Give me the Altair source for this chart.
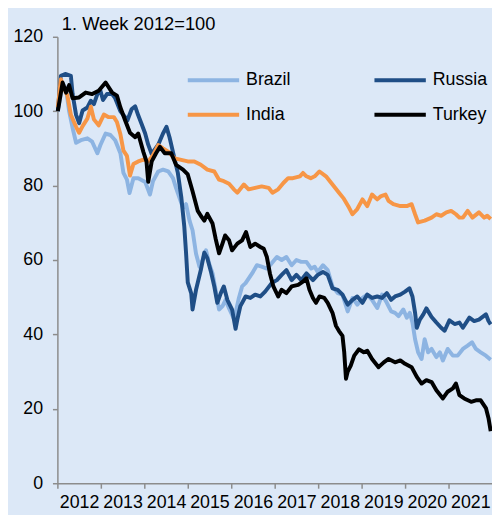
import altair as alt
import pandas as pd

series = ["Brazil", "Russia", "India", "Turkey"]
colors = ["#8DB4E2", "#1F4E86", "#F79646", "#000000"]
years = [2012, 2013, 2014, 2015, 2016, 2017, 2018, 2019, 2020, 2021]
y_ticks = [0, 20, 40, 60, 80, 100, 120]
title_text = "1. Week 2012=100"

brazil_t = [2012.01, 2012.12, 2012.20, 2012.27, 2012.35, 2012.43, 2012.54, 2012.69, 2012.80, 2012.92,
            2012.99, 2013.11, 2013.22, 2013.33, 2013.45, 2013.52, 2013.60, 2013.66, 2013.75, 2013.86,
            2014.02, 2014.13, 2014.20, 2014.32, 2014.43, 2014.55, 2014.66, 2014.73, 2014.81, 2014.89,
            2014.96, 2015.04, 2015.11, 2015.19, 2015.27, 2015.34, 2015.42, 2015.49, 2015.57, 2015.64,
            2015.72, 2015.80, 2015.87, 2015.95, 2016.05, 2016.10, 2016.17, 2016.25, 2016.33, 2016.48,
            2016.59, 2016.70, 2016.82, 2016.93, 2017.05, 2017.16, 2017.27, 2017.39, 2017.50, 2017.61,
            2017.73, 2017.84, 2017.92, 2017.99, 2018.11, 2018.22, 2018.33, 2018.45, 2018.56, 2018.68,
            2018.79, 2018.90, 2019.02, 2019.13, 2019.24, 2019.36, 2019.47, 2019.58, 2019.68, 2019.77,
            2019.85, 2019.96, 2020.04, 2020.11, 2020.17, 2020.23, 2020.30, 2020.38, 2020.45, 2020.53,
            2020.61, 2020.72, 2020.80, 2020.87, 2020.98, 2021.10, 2021.21, 2021.33, 2021.44, 2021.54,
            2021.63, 2021.74, 2021.86, 2021.97]
brazil_v = [100, 107.5, 106, 100, 95.5, 91.5, 92.2, 92.7, 91.8, 88.7,
            90.9, 94, 93.6, 92.2, 88.7, 83.4, 81.6, 78, 82, 82,
            81, 77.6, 81.2, 83.8, 84.3, 83.8, 82, 79.4, 76.7, 74,
            75, 70.6, 68, 61.7, 58.2, 60, 62.6, 59.1, 56.4, 52,
            46.7, 47.6, 49.3, 47, 44.5, 45.8, 49.5, 52.9, 53.8, 56.4,
            58.6, 58.2, 57.7, 59.1, 60.8, 60, 60.8, 58.6, 60, 59.5,
            59.5, 57.7, 58.2, 56.8, 58.6, 57.3, 52.9, 51.1, 50.7, 46.2,
            49.8, 48, 49.8, 50.7, 49.3, 47.1, 50.7, 48.5, 46.2, 45.8,
            44.9, 46.7, 44.5, 45.8, 43.2, 38.7, 35.2, 33.4, 38.7, 35.2,
            36.1, 33.9, 35.2, 33, 36.1, 34.3, 34.3, 36.1, 37, 37.9,
            36.1, 35.2, 34.3, 33.2]

russia_t = [2012.01, 2012.08, 2012.18, 2012.31, 2012.35, 2012.43, 2012.50, 2012.58, 2012.69, 2012.77,
            2012.84, 2012.92, 2012.99, 2013.05, 2013.14, 2013.26, 2013.33, 2013.45, 2013.56, 2013.61,
            2013.71, 2013.79, 2013.86, 2013.94, 2014.02, 2014.09, 2014.17, 2014.32, 2014.43, 2014.51,
            2014.58, 2014.66, 2014.77, 2014.85, 2014.92, 2014.96, 2015.00, 2015.08, 2015.11, 2015.19,
            2015.30, 2015.38, 2015.45, 2015.53, 2015.61, 2015.68, 2015.76, 2015.83, 2015.91, 2016.02,
            2016.10, 2016.14, 2016.21, 2016.33, 2016.44, 2016.55, 2016.67, 2016.78, 2016.93, 2017.05,
            2017.16, 2017.27, 2017.39, 2017.50, 2017.61, 2017.73, 2017.88, 2017.99, 2018.11, 2018.22,
            2018.33, 2018.45, 2018.56, 2018.68, 2018.79, 2018.90, 2019.02, 2019.13, 2019.24, 2019.36,
            2019.47, 2019.58, 2019.68, 2019.77, 2019.89, 2020.00, 2020.10, 2020.17, 2020.23, 2020.27,
            2020.34, 2020.42, 2020.49, 2020.61, 2020.72, 2020.83, 2020.91, 2021.02, 2021.14, 2021.25,
            2021.33, 2021.48, 2021.59, 2021.70, 2021.86, 2021.92, 2021.97]
russia_v = [100, 109.5, 110, 109.5, 104.6, 99, 96.8, 100.2, 101, 102.8,
            101.9, 104.6, 105.5, 103, 104.6, 104.6, 103.5, 100, 98.4, 97.5,
            100.6, 101.3, 98.9, 96.5, 94, 91, 88.5, 91, 94, 95.8,
            93, 89, 83.5, 77, 69, 62, 54, 51, 46.7, 52,
            57.3, 62, 60.5, 57, 52.9, 48.5, 51.1, 52.9, 49.3, 46.7,
            41.5, 44, 47.6, 50.2, 49.8, 50.7, 50.2, 51.5, 53.8, 54.6,
            56, 57.3, 54.6, 56, 54.6, 56.4, 54.6, 56, 56.8, 56,
            52.4, 52, 50.7, 48, 49.3, 50.2, 48.5, 50.7, 49.8, 50.2,
            49.8, 51.1, 49.3, 50.2, 50.7, 51.5, 52.4, 50.2, 45.8, 41.8,
            44, 45.4, 47, 44.7, 43.2, 41.8, 41, 43.8, 42.8, 43.2,
            41.8, 44.5, 43.6, 44, 45.4, 43.6, 42.7]

india_t = [2012.01, 2012.08, 2012.16, 2012.23, 2012.31, 2012.43, 2012.50, 2012.58, 2012.69, 2012.77,
           2012.84, 2012.95, 2013.07, 2013.18, 2013.30, 2013.37, 2013.45, 2013.52, 2013.60, 2013.67,
           2013.75, 2013.86, 2013.98, 2014.09, 2014.20, 2014.32, 2014.43, 2014.55, 2014.70, 2014.85,
           2015.00, 2015.15, 2015.30, 2015.45, 2015.61, 2015.72, 2015.83, 2015.95, 2016.06, 2016.14,
           2016.29, 2016.40, 2016.55, 2016.70, 2016.86, 2016.95, 2017.08, 2017.20, 2017.31, 2017.42,
           2017.58, 2017.65, 2017.73, 2017.83, 2017.92, 2018.03, 2018.18, 2018.33, 2018.48, 2018.59,
           2018.71, 2018.79, 2018.90, 2019.02, 2019.13, 2019.24, 2019.36, 2019.45, 2019.55, 2019.62,
           2019.73, 2019.89, 2020.04, 2020.15, 2020.23, 2020.30, 2020.45, 2020.61, 2020.72, 2020.83,
           2020.95, 2021.06, 2021.17, 2021.25, 2021.33, 2021.44, 2021.55, 2021.70, 2021.82, 2021.89,
           2021.97]
india_v = [101, 108.6, 106, 104.2, 99, 95.8, 94.2, 96, 98, 101.2,
           97.8, 96.2, 99.1, 98.4, 98.4, 97.1, 93.8, 89.4, 88, 82.7,
           85.8, 86.5, 87, 86.5, 88.2, 90.9, 90, 89.1, 87.3, 86.9,
           86.5, 86.5, 85.6, 84.3, 83.8, 81.6, 81.2, 80.5, 79, 78.1,
           80.3, 79, 79.4, 79.8, 79.4, 78.1, 79, 80.7, 82, 82,
           82.5, 83.4, 82.5, 82, 82.5, 83.8, 82.5, 80.3, 78.1, 76.5,
           74.1, 72.3, 73.7, 76.3, 74.5, 77.6, 76.3, 77.2, 77.6, 75.9,
           75, 74.5, 74.5, 75, 72.3, 70.1, 70.6, 71.4, 72.3, 71.9,
           72.8, 73.2, 72.3, 71.4, 71.4, 73.2, 71.4, 72.8, 71.4, 71.9,
           71]

turkey_t = [2012.01, 2012.12, 2012.20, 2012.27, 2012.35, 2012.50, 2012.65, 2012.80, 2012.95, 2013.11,
            2013.26, 2013.37, 2013.45, 2013.56, 2013.67, 2013.79, 2013.86, 2013.98, 2014.05, 2014.09,
            2014.17, 2014.27, 2014.36, 2014.47, 2014.62, 2014.73, 2014.89, 2015.00, 2015.11, 2015.23,
            2015.30, 2015.38, 2015.45, 2015.57, 2015.64, 2015.72, 2015.80, 2015.86, 2015.95, 2016.02,
            2016.14, 2016.25, 2016.34, 2016.44, 2016.55, 2016.67, 2016.75, 2016.82, 2016.89, 2016.97,
            2017.08, 2017.16, 2017.27, 2017.39, 2017.54, 2017.65, 2017.73, 2017.80, 2017.88, 2017.95,
            2018.03, 2018.14, 2018.22, 2018.33, 2018.41, 2018.48, 2018.56, 2018.60, 2018.64, 2018.68,
            2018.75, 2018.83, 2018.94, 2019.05, 2019.13, 2019.24, 2019.39, 2019.51, 2019.62, 2019.77,
            2019.89, 2020.00, 2020.15, 2020.27, 2020.38, 2020.49, 2020.61, 2020.72, 2020.87, 2020.98,
            2021.10, 2021.17, 2021.25, 2021.36, 2021.52, 2021.63, 2021.74, 2021.86, 2021.92, 2021.97]
turkey_v = [100, 107.7, 105, 107, 103.5, 103.7, 105, 104.6, 105.5, 107.7,
            105, 104.2, 101, 97.5, 94.2, 93, 94, 89, 86.5, 81,
            86.5, 88.7, 90.4, 88.7, 88.7, 85.6, 84.3, 83, 78.5, 73.2,
            71.9, 70.6, 72.4, 69.8, 65.8, 61.8, 64.5, 66.6, 65.3, 62.6,
            64.4, 65.3, 67.5, 63.5, 64.4, 63.5, 63, 60.8, 56.4, 52.9,
            50.2, 52, 51.1, 52.9, 53.3, 54.2, 55.1, 52, 49.8, 48.5,
            50.2, 49.8, 48.5, 45.8, 42.3, 40.9, 39.6, 35.2, 28.1, 30,
            31.6, 34.3, 36, 35.2, 35.6, 33.4, 31.2, 32.5, 33.4, 32.5,
            33, 32.1, 31.2, 28.6, 26.8, 27.7, 27.2, 25, 22.8, 24.6,
            25.5, 26.8, 23.7, 22.8, 21.9, 22.3, 22.3, 20.2, 17.5, 14]

rows = []
for name, ts, vs in [("Brazil", brazil_t, brazil_v), ("Russia", russia_t, russia_v),
                     ("India", india_t, india_v), ("Turkey", turkey_t, turkey_v)]:
    for t, v in zip(ts, vs):
        rows.append({"series": name, "t": t, "v": v})
df = pd.DataFrame(rows)

FONT = "Liberation Sans"
AXIS_GREY = "#8C8C8C"

chart = alt.Chart(df).mark_line(strokeWidth=4, strokeJoin="round").encode(
    x=alt.X("t:Q", title=None,
            scale=alt.Scale(domain=[2012, 2022], nice=False, zero=False),
            axis=alt.Axis(values=years, format="d", labelOffset=22, grid=False,
                          domainColor=AXIS_GREY, domainWidth=1.5, tickColor=AXIS_GREY,
                          tickWidth=1.5, tickSize=5, labelPadding=6, labelFontSize=18,
                          labelFont=FONT, labelColor="black", labelFlush=False,
                          labelOverlap=False)),
    y=alt.Y("v:Q", title=title_text,
            scale=alt.Scale(domain=[0, 120], nice=False),
            axis=alt.Axis(values=y_ticks, grid=False,
                          domainColor=AXIS_GREY, domainWidth=1.5, tickColor=AXIS_GREY,
                          tickWidth=1.5, tickSize=5, labelPadding=10, labelFontSize=18,
                          labelFont=FONT, labelColor="black",
                          titleAngle=0, titleX=4, titleY=-7, titleAlign="left",
                          titleBaseline="alphabetic", titleFontSize=18.5,
                          titleFontWeight="normal", titleFont=FONT, titleColor="black")),
    color=alt.Color("series:N", sort=series,
                    scale=alt.Scale(domain=series, range=colors),
                    legend=alt.Legend(orient="none", legendX=143, legendY=29, columns=2,
                                      direction="horizontal",
                                      title=None, symbolType="M-2,0H2", symbolSize=676,
                                      symbolStrokeWidth=4, labelFontSize=18, labelFont=FONT,
                                      labelColor="black", labelOffset=18, columnPadding=76,
                                      rowPadding=11)),
).properties(
    width=440,
    height=452,
    padding={"left": 50, "top": 26, "right": 0, "bottom": 29},
    autosize=alt.AutoSizeParams(type="none"),
    background="#DCE8F7",
).configure_view(stroke=None)

chart.save("out.html", embed_options={"renderer": "svg", "actions": False})
